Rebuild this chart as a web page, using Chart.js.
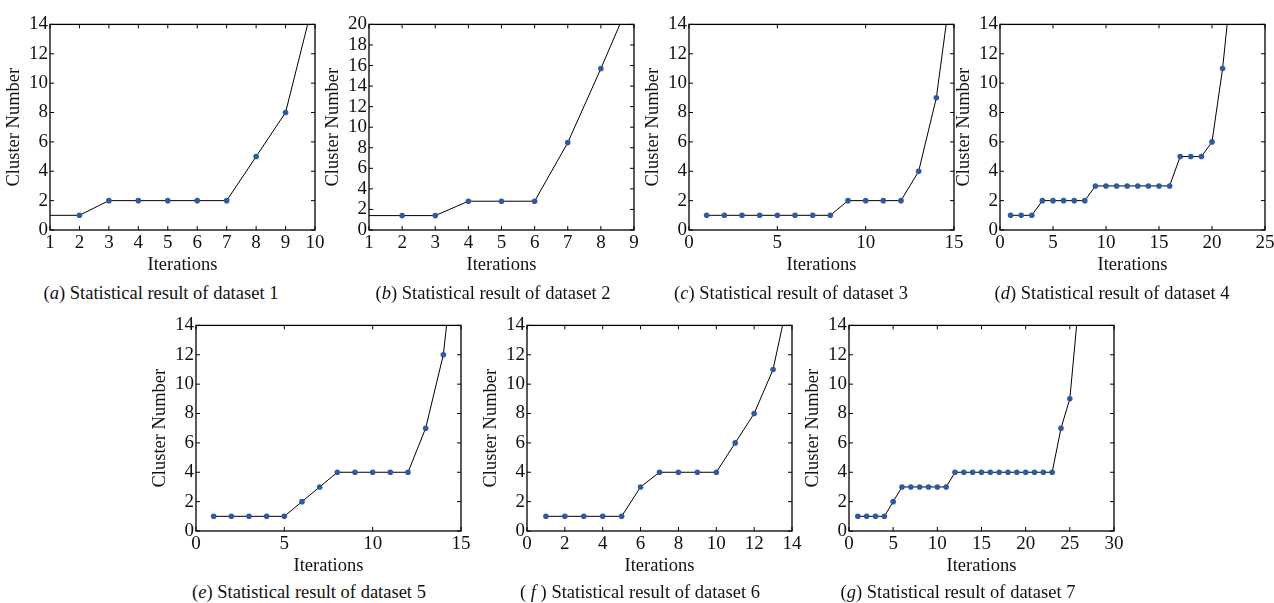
<!DOCTYPE html>
<html>
<head>
<meta charset="utf-8">
<script src="https://cdn.jsdelivr.net/npm/chart.js@4.4.1/dist/chart.umd.min.js"></script>
<style>
  body { margin: 0; width: 1274px; height: 603px; background: #fff; position: relative; overflow: hidden; }
  canvas { position: absolute; }
  .cap { position: absolute; font-family: 'Liberation Serif', 'Times New Roman', serif; font-size: 18.5px; color: #111;
         white-space: nowrap; transform: translate(-50%, -50%); }
</style>
</head>
<body>
<script>
// data (iteration -> cluster number)
const iterA = [1, 2, 3, 4, 5, 6, 7, 8, 9, 10];
const clusterA = [1, 1, 2, 2, 2, 2, 2, 5, 8, 16];

const iterB = [1, 2, 3, 4, 5, 6, 7, 8, 9];
const clusterB = [1.4, 1.4, 1.4, 2.8, 2.8, 2.8, 8.5, 15.7, 23.2];

const iterC = [1, 2, 3, 4, 5, 6, 7, 8, 9, 10, 11, 12, 13, 14, 15];
const clusterC = [1, 1, 1, 1, 1, 1, 1, 1, 2, 2, 2, 2, 4, 9, 18];

const iterD = [1, 2, 3, 4, 5, 6, 7, 8, 9, 10, 11, 12, 13, 14, 15, 16, 17, 18, 19, 20, 21, 22];
const clusterD = [1, 1, 1, 2, 2, 2, 2, 2, 3, 3, 3, 3, 3, 3, 3, 3, 5, 5, 5, 6, 11, 18];

const iterE = [1, 2, 3, 4, 5, 6, 7, 8, 9, 10, 11, 12, 13, 14, 15];
const clusterE = [1, 1, 1, 1, 1, 2, 3, 4, 4, 4, 4, 4, 7, 12, 23];

const iterF = [1, 2, 3, 4, 5, 6, 7, 8, 9, 10, 11, 12, 13, 14];
const clusterF = [1, 1, 1, 1, 1, 3, 4, 4, 4, 4, 6, 8, 11, 17];

const iterG = [1, 2, 3, 4, 5, 6, 7, 8, 9, 10, 11, 12, 13, 14, 15, 16, 17, 18, 19, 20, 21, 22, 23, 24, 25, 26];
const clusterG = [1, 1, 1, 1, 2, 3, 3, 3, 3, 3, 3, 4, 4, 4, 4, 4, 4, 4, 4, 4, 4, 4, 4, 7, 9, 15.5];

// axis ranges / tick steps
const xRanges = { a: [1, 10, 1], b: [1, 9, 1], c: [0, 15, 5], d: [0, 25, 5], e: [0, 15, 5], f: [0, 14, 2], g: [0, 30, 5] };
const yRanges = { a: [0, 14, 2], b: [0, 20, 2], c: [0, 14, 2], d: [0, 14, 2], e: [0, 14, 2], f: [0, 14, 2], g: [0, 14, 2] };

const captions = {
  a: '(<i>a</i>) Statistical result of dataset 1',
  b: '(<i>b</i>) Statistical result of dataset 2',
  c: '(<i>c</i>) Statistical result of dataset 3',
  d: '(<i>d</i>) Statistical result of dataset 4',
  e: '(<i>e</i>) Statistical result of dataset 5',
  f: '( <i>f</i> ) Statistical result of dataset 6',
  g: '(<i>g</i>) Statistical result of dataset 7'
};

// page layout: plot box left/top, caption centre
const layout = {
  a: { left: 50, top: 23, cap: [161, 293] },
  b: { left: 369, top: 23, cap: [493, 293] },
  c: { left: 689, top: 23, cap: [791, 293] },
  d: { left: 1000, top: 23, cap: [1112, 293] },
  e: { left: 196, top: 324, cap: [309, 592] },
  f: { left: 527, top: 324, cap: [640, 592] },
  g: { left: 849, top: 324, cap: [958, 592] }
};

const series = {
  a: [iterA, clusterA], b: [iterB, clusterB], c: [iterC, clusterC], d: [iterD, clusterD],
  e: [iterE, clusterE], f: [iterF, clusterF], g: [iterG, clusterG]
};

const FONT = "'Liberation Serif', 'Times New Roman', serif";
const PLOT_W = 265, PLOT_H = 207, Y_AXIS_W = 60, X_AXIS_H = 50, PAD_TOP = 12, PAD_RIGHT = 16;

// box around the plot with small inward ticks, like the original figure
const framePlugin = {
  id: 'frame',
  afterDatasetsDraw(chart) {
    const { ctx, chartArea: a, scales } = chart;
    ctx.save();
    ctx.strokeStyle = '#000';
    ctx.lineWidth = 1.3;
    ctx.strokeRect(a.left, a.top, a.right - a.left, a.bottom - a.top);
    ctx.lineWidth = 1;
    ctx.beginPath();
    scales.x.ticks.forEach(t => {
      const px = scales.x.getPixelForValue(t.value);
      ctx.moveTo(px, a.bottom); ctx.lineTo(px, a.bottom - 4);
      ctx.moveTo(px, a.top); ctx.lineTo(px, a.top + 4);
    });
    scales.y.ticks.forEach(t => {
      const py = scales.y.getPixelForValue(t.value);
      ctx.moveTo(a.left, py); ctx.lineTo(a.left + 4, py);
      ctx.moveTo(a.right, py); ctx.lineTo(a.right - 4, py);
    });
    ctx.stroke();
    ctx.restore();
  }
};

function makePanel(key) {
  const [xs, ys] = series[key];
  const [xmin, xmax, xstep] = xRanges[key];
  const [ymin, ymax, ystep] = yRanges[key];
  const pos = layout[key];

  const canvas = document.createElement('canvas');
  const w = Y_AXIS_W + PLOT_W + PAD_RIGHT;
  const h = PAD_TOP + PLOT_H + X_AXIS_H;
  canvas.width = w; canvas.height = h;
  canvas.style.width = w + 'px'; canvas.style.height = h + 'px';
  canvas.style.left = (pos.left - Y_AXIS_W) + 'px';
  canvas.style.top = (pos.top - PAD_TOP) + 'px';
  document.body.appendChild(canvas);

  new Chart(canvas, {
    type: 'line',
    data: {
      datasets: [{
        data: xs.map((x, i) => ({ x: x, y: ys[i] })),
        borderColor: '#000',
        borderWidth: 1,
        tension: 0,
        pointBackgroundColor: '#2c5ba6',
        pointBorderWidth: 0,
        pointRadius: c => {
          const p = c.raw;
          return (p && (p.x <= xmin || p.y > ymax)) ? 0 : 2.8;
        }
      }]
    },
    options: {
      responsive: false,
      animation: false,
      events: [],
      layout: { padding: { top: PAD_TOP, right: PAD_RIGHT, left: 0, bottom: 0 } },
      plugins: { legend: { display: false }, tooltip: { enabled: false } },
      scales: {
        x: {
          type: 'linear', min: xmin, max: xmax,
          ticks: { stepSize: xstep, autoSkip: false, color: '#111', padding: 2, maxRotation: 0, font: { family: FONT, size: 19 } },
          grid: { display: false, drawTicks: false, tickLength: 0 },
          border: { display: false },
          title: { display: true, text: 'Iterations', color: '#111', font: { family: FONT, size: 18.5 }, padding: { top: 0, bottom: 4 } },
          afterFit: s => { s.height = X_AXIS_H; }
        },
        y: {
          type: 'linear', min: ymin, max: ymax,
          ticks: { stepSize: ystep, autoSkip: false, color: '#111', padding: 2, font: { family: FONT, size: 19 } },
          grid: { display: false, drawTicks: false, tickLength: 0 },
          border: { display: false },
          title: { display: true, text: 'Cluster Number', color: '#111', font: { family: FONT, size: 18.5 }, padding: { top: 13, bottom: 0 } },
          afterFit: s => { s.width = Y_AXIS_W; }
        }
      }
    },
    plugins: [framePlugin]
  });

  const cap = document.createElement('div');
  cap.className = 'cap';
  cap.innerHTML = captions[key];
  cap.style.left = pos.cap[0] + 'px';
  cap.style.top = pos.cap[1] + 'px';
  document.body.appendChild(cap);
}

Object.keys(series).forEach(makePanel);
</script>
</body>
</html>
